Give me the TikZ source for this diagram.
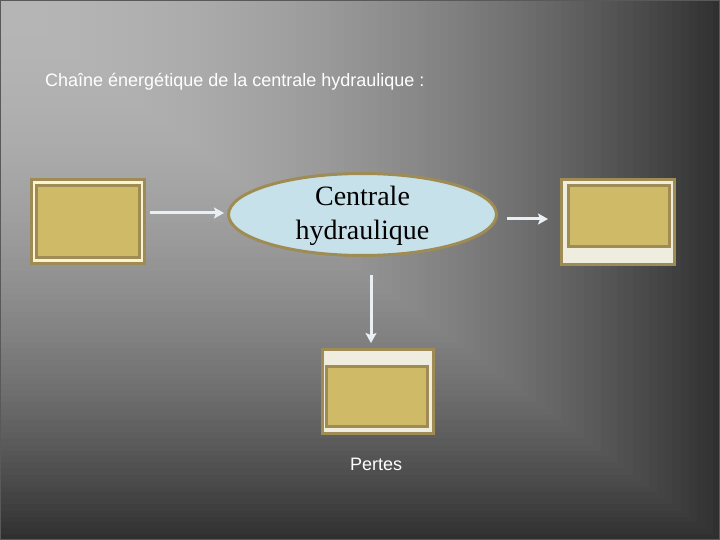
\documentclass[tikz,border=0pt]{standalone}
\usepackage{fontspec}
\setmainfont{Liberation Sans}
\newfontfamily\serifb{Liberation Serif}
\usetikzlibrary{shapes.geometric,arrows.meta}
\definecolor{olive}{HTML}{9F8C55}
\definecolor{gold}{HTML}{CFBA68}
\definecolor{creamA}{HTML}{FAF2D3}
\definecolor{creamB}{HTML}{EEEDDF}
\definecolor{ellfill}{HTML}{C6E1E9}
\definecolor{arrc}{HTML}{E8EFF5}
\tikzset{
  outerbox/.style={rectangle, draw=olive, line width=3pt, inner sep=0pt, outer sep=0pt},
  innerbox/.style={rectangle, draw=olive, fill=gold, line width=3pt, inner sep=0pt, outer sep=0pt},
  arr/.style={draw=arrc, line width=3pt, -{Stealth[length=10pt,width=11pt,inset=2pt]}},
  wtext/.style={text=white, font=\fontsize{18}{21}\selectfont, inner sep=0pt, anchor=base west}
}
\begin{document}
\begin{tikzpicture}[x=1pt,y=-1pt]
\useasboundingbox (0,0) rectangle (720,540);
% background: rectangular gradient from the top left corner
\foreach \i in {90,...,1}{
  \pgfmathsetmacro\bs{\i/90}
  \pgfmathsetmacro\bv{0.71-0.52*\bs*\bs}
  \definecolor{bgc}{gray}{\bv}
  \fill[bgc] (0,0) rectangle (720*\bs+0.5,540*\bs+0.5);
}
\draw[line width=2pt, color=black!65] (0,0) rectangle (720,540);
% title
\node[wtext] (title) at (45,87) {Chaîne énergétique de la centrale hydraulique :};
% left box
\node[outerbox, fill=creamA, minimum width=113pt, minimum height=84pt] (lbox) at (88,221.5) {};
\node[innerbox, minimum width=103pt, minimum height=71.5pt] (lin) at (88,221.25) {};
% right box
\node[outerbox, fill=creamB, minimum width=113pt, minimum height=84.5pt] (rbox) at (618,221.75) {};
\node[innerbox, minimum width=101pt, minimum height=61pt] (rin) at (619.2,216) {};
% bottom box
\node[outerbox, fill=creamB, minimum width=111.3pt, minimum height=83.8pt] (bbox) at (377.85,391.6) {};
\node[innerbox, minimum width=101.3pt, minimum height=60pt] (bin) at (377.15,396.5) {};
% ellipse
\node[ellipse, draw=olive, fill=ellfill, line width=3pt, inner sep=0pt, outer sep=0pt,
      minimum width=268pt, minimum height=82pt] (ell) at (362.5,214.5) {};
\node[align=center, inner sep=0pt, font=\serifb\fontsize{28}{34}\selectfont] (ellt) at (362.5,216) {Centrale\\hydraulique};
% arrows
\draw[arr] ([shift={(5.5,-8.5)}]lbox.east) -- ([shift={(-4.5,-1.5)}]ell.west);
\draw[arr] ([shift={(10.5,4.5)}]ell.east) -- ([shift={(-13.5,-2.75)}]rbox.west);
\draw[arr] ([shift={(8.5,19.5)}]ell.south) -- ([shift={(-6.85,-6.7)}]bbox.north);
% label
\node[wtext] (pertes) at (350,470) {Pertes};
\end{tikzpicture}
\end{document}
